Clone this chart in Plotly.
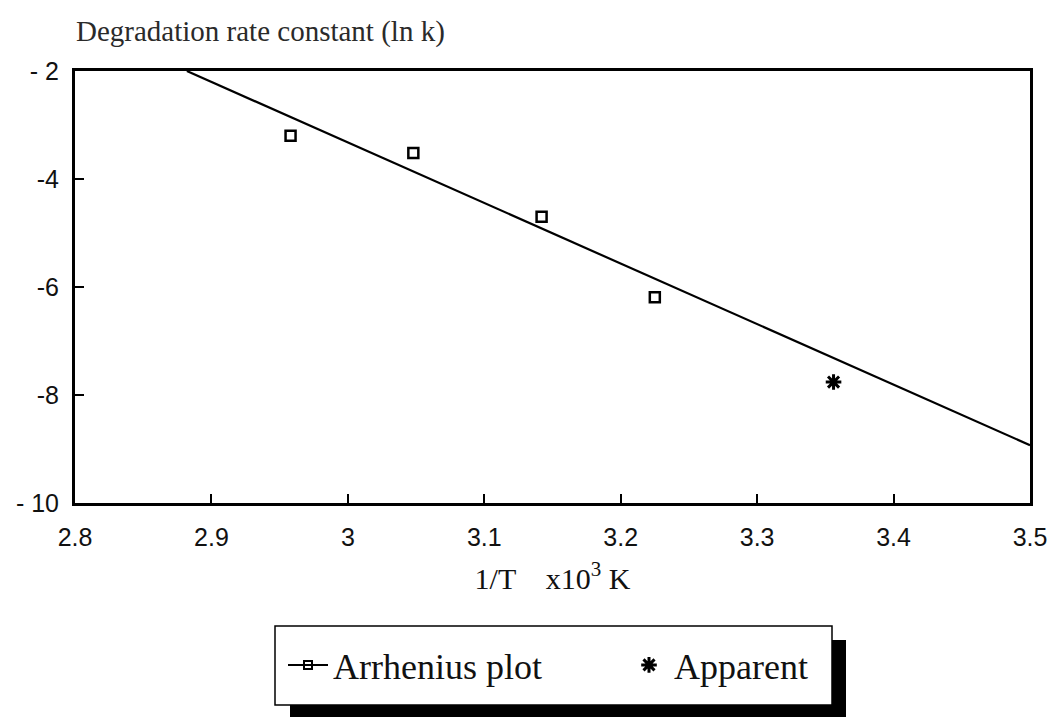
import plotly.graph_objects as go

# Data
arr_x = [2.958, 3.048, 3.142, 3.225]
arr_y = [-3.20, -3.52, -4.70, -6.19]
app_x = [3.356]
app_y = [-7.76]
fit_x = [2.882, 3.5]
fit_y = [-2.0, -8.93]

x_ticks = [2.8, 2.9, 3.0, 3.1, 3.2, 3.3, 3.4, 3.5]
x_ticktext = ["2.8", "2.9", "3", "3.1", "3.2", "3.3", "3.4", "3.5"]
y_ticks = [-10, -8, -6, -4, -2]
y_ticktext = ["- 10", "-8", "-6", "-4", "- 2"]

SERIF = "Liberation Serif"
SANS = "Liberation Sans"

# plot area in pixels (for converting decorative legend box to paper coords)
L, R, T, B = 75, 1030, 71, 503
def px(x):
    return (x - L) / (R - L)
def py(y):
    return (B - y) / (B - T)

fig = go.Figure()

fig.add_trace(go.Scatter(x=fit_x, y=fit_y, mode="lines",
                         line=dict(color="black", width=2.2),
                         showlegend=False, legendgroup="arr", hoverinfo="skip"))
fig.add_trace(go.Scatter(x=arr_x, y=arr_y, mode="markers",
                         marker=dict(symbol="square-open", size=10, color="black",
                                     line=dict(width=2.5, color="black")),
                         showlegend=False, legendgroup="arr"))
fig.add_trace(go.Scatter(x=[None], y=[None], mode="lines+markers", name="Arrhenius plot",
                         line=dict(color="black", width=2),
                         marker=dict(symbol="square-open", size=8, color="black",
                                     line=dict(width=2, color="black")),
                         legendgroup="arr"))
fig.add_trace(go.Scatter(x=app_x, y=app_y, mode="markers", name="Apparent",
                         marker=dict(symbol="asterisk-open", size=13, color="black",
                                     line=dict(width=3, color="black"))))

fig.update_layout(
    width=1058, height=717,
    margin=dict(l=L, r=1058 - R, t=T, b=717 - B),
    paper_bgcolor="white", plot_bgcolor="white",
    title=dict(text="Degradation rate constant (ln k)", x=76/1058, xanchor="left",
               y=1 - 31/717, yanchor="middle",
               font=dict(family=SERIF, size=29, color="#2a2a2a")),
    showlegend=True,
    legend=dict(orientation="h", x=px(283), xanchor="left", y=py(665), yanchor="middle",
                bgcolor="rgba(0,0,0,0)", borderwidth=0,
                font=dict(family=SERIF, size=36, color="#111"),
                itemwidth=40, entrywidth=286, traceorder="normal"),
    font=dict(family=SANS, color="#111"),
)

fig.update_xaxes(range=[2.8, 3.5], tickvals=x_ticks, ticktext=x_ticktext,
                 showgrid=False, zeroline=False,
                 showline=True, linecolor="black", linewidth=3, mirror=True,
                 ticks="inside", ticklen=9, tickwidth=2, tickcolor="black",
                 tickfont=dict(family=SANS, size=25, color="#111"),
                 ticklabelstandoff=10,
                 title=dict(text="1/T    x10<sup>3</sup> K", standoff=18,
                            font=dict(family=SERIF, size=30, color="#111")))
fig.update_yaxes(range=[-10, -2], tickvals=y_ticks, ticktext=y_ticktext,
                 showgrid=False, zeroline=False,
                 showline=True, linecolor="black", linewidth=3, mirror=True,
                 ticks="inside", ticklen=9, tickwidth=2, tickcolor="black",
                 tickfont=dict(family=SANS, size=25, color="#111"),
                 ticklabelstandoff=8)

# legend drop shadow and frame (decorative, paper coordinates)
fig.add_shape(type="rect", xref="paper", yref="paper",
              x0=px(832), x1=px(846), y0=py(718), y1=py(640),
              fillcolor="black", line=dict(width=0), layer="above")
fig.add_shape(type="rect", xref="paper", yref="paper",
              x0=px(290), x1=px(846), y0=py(718), y1=py(705),
              fillcolor="black", line=dict(width=0), layer="above")
fig.add_shape(type="rect", xref="paper", yref="paper",
              x0=px(275), x1=px(832), y0=py(705), y1=py(626),
              fillcolor="white", line=dict(width=1.5, color="black"), layer="above")

fig.write_html("out.html")
